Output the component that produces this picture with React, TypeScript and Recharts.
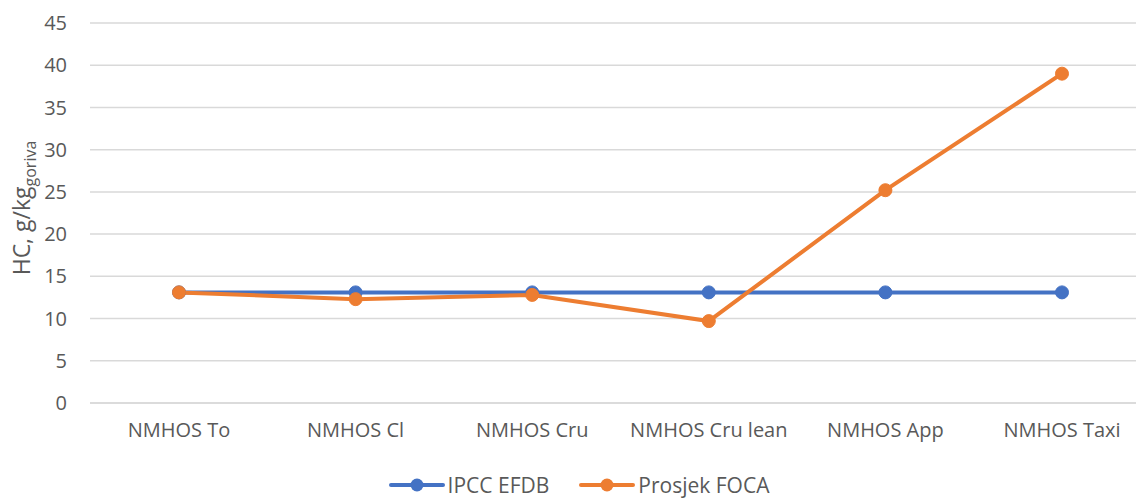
import React from "react"
import {
  LineChart,
  Line,
  XAxis,
  YAxis,
  CartesianGrid,
  Legend,
} from "recharts"

const categories = [
  "NMHOS To",
  "NMHOS Cl",
  "NMHOS Cru",
  "NMHOS Cru lean",
  "NMHOS App",
  "NMHOS Taxi",
]
const ipccEfdb = [13.1, 13.1, 13.1, 13.1, 13.1, 13.1]
const prosjekFoca = [13.1, 12.3, 12.8, 9.7, 25.2, 39.0]
const yTicks = [0, 5, 10, 15, 20, 25, 30, 35, 40, 45]

const seriesInfo = [
  { key: "ipcc", name: "IPCC EFDB", color: "#4472C4" },
  { key: "foca", name: "Prosjek FOCA", color: "#ED7D31" },
]

const data = categories.map((c, i) => ({
  name: c,
  ipcc: ipccEfdb[i],
  foca: prosjekFoca[i],
}))

const FONT = "'Open Sans', sans-serif"
const TEXT = "#595959"

const YLabel = (props: any) => {
  const vb = props.viewBox || { x: 0, y: 0, width: 90, height: 380 }
  const cx = vb.x + 30
  const cy = vb.y + vb.height / 2 - 5
  return (
    <text
      x={cx}
      y={cy}
      transform={`rotate(-90 ${cx} ${cy})`}
      textAnchor="middle"
      fill={TEXT}
      fontFamily={FONT}
      fontSize={23}
    >
      HC, g/kg
      <tspan fontSize={16} dy={6}>goriva</tspan>
    </text>
  )
}

const LegendContent = () => (
  <div
    style={{
      display: "flex",
      justifyContent: "center",
      alignItems: "center",
      height: 26,
      paddingLeft: 22,
      fontFamily: FONT,
      fontSize: 21,
      color: TEXT,
    }}
  >
    {seriesInfo.map((s, i) => (
      <div
        key={s.key}
        style={{ display: "flex", alignItems: "center", marginLeft: i ? 30 : 0 }}
      >
        <svg width={56} height={16} style={{ marginRight: 3 }}>
          <line x1={2} y1={8} x2={54} y2={8} stroke={s.color} strokeWidth={4} strokeLinecap="round" />
          <circle cx={28} cy={8} r={6.5} fill={s.color} />
        </svg>
        <span>{s.name}</span>
      </div>
    ))}
  </div>
)

export default function App() {
  return (
    <div style={{ position: "absolute", left: 0, top: 0, width: 1136, height: 498, background: "#fff" }}>
      <LineChart
        width={1136}
        height={498}
        data={data}
        margin={{ top: 23, right: 0, left: 0, bottom: 0 }}
      >
        <CartesianGrid vertical={false} stroke="#d9d9d9" strokeWidth={1.5} />
        <XAxis
          dataKey="name"
          padding={{ left: 89, right: 74 }}
          axisLine={{ stroke: "#d9d9d9", strokeWidth: 1.5 }}
          tickLine={false}
          tickSize={0}
          tickMargin={20}
          height={69}
          interval={0}
          tick={{ fill: TEXT, fontFamily: FONT, fontSize: 20 }}
        />
        <YAxis
          domain={[0, 45]}
          ticks={yTicks}
          width={90}
          axisLine={false}
          tickLine={false}
          tickSize={0}
          tickMargin={23}
          interval={0}
          tick={{ fill: TEXT, fontFamily: FONT, fontSize: 20 }}
          label={<YLabel />}
        />
        <Legend verticalAlign="bottom" content={<LegendContent />} />
        {seriesInfo.map((s) => (
          <Line
            key={s.key}
            type="linear"
            dataKey={s.key}
            name={s.name}
            stroke={s.color}
            strokeWidth={4}
            dot={{ r: 6.5, fill: s.color, stroke: s.color, strokeWidth: 1 }}
            activeDot={false}
            isAnimationActive={false}
          />
        ))}
      </LineChart>
    </div>
  )
}
